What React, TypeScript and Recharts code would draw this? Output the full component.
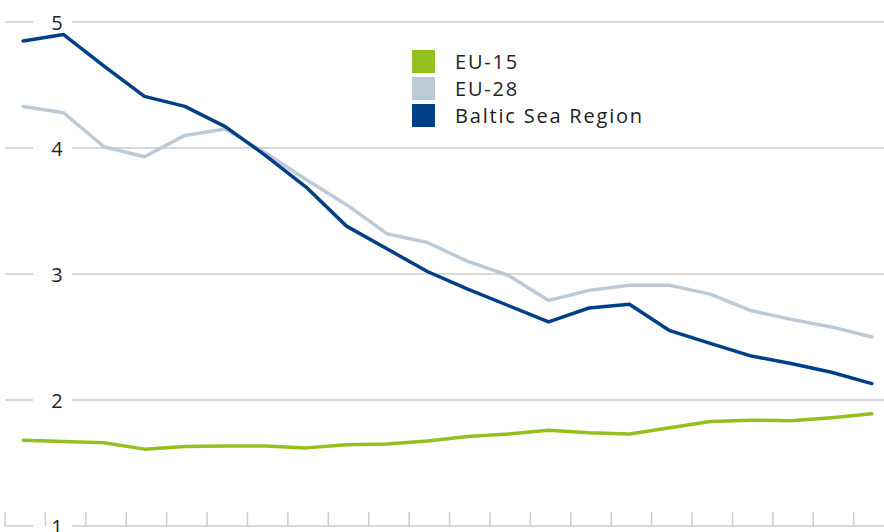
import React from "react";
import { LineChart, Line, XAxis, YAxis, CartesianGrid, Legend } from "recharts";

const YEARS = [
  "1995", "1996", "1997", "1998", "1999", "2000", "2001", "2002", "2003", "2004", "2005",
  "2006", "2007", "2008", "2009", "2010", "2011", "2012", "2013", "2014", "2015", "2016",
];

const EU15 = [1.68, 1.67, 1.66, 1.61, 1.63, 1.635, 1.635, 1.62, 1.645, 1.65, 1.675, 1.71, 1.73, 1.76, 1.74, 1.73, 1.78, 1.83, 1.84, 1.835, 1.86, 1.89];
const EU28 = [4.33, 4.28, 4.01, 3.93, 4.10, 4.15, 3.96, 3.75, 3.55, 3.32, 3.25, 3.10, 2.99, 2.79, 2.87, 2.91, 2.91, 2.84, 2.71, 2.64, 2.58, 2.50];
const BALTIC = [4.85, 4.90, 4.65, 4.41, 4.33, 4.17, 3.94, 3.69, 3.38, 3.20, 3.02, 2.88, 2.75, 2.62, 2.73, 2.76, 2.55, 2.45, 2.35, 2.29, 2.22, 2.13];

const SERIES_NAMES = ["EU-15", "EU-28", "Baltic Sea Region"];
const SERIES_COLORS = ["#93c01f", "#bccad8", "#003f87"];

const Y_TICKS = [1, 2, 3, 4, 5];

const FONT = "'Open Sans', 'Noto Sans', sans-serif";
const GRID = "#cccccc";

const data = YEARS.map((year, i) => ({
  idx: i,
  year,
  eu15: EU15[i],
  eu28: EU28[i],
  baltic: BALTIC[i],
}));

// band edges between the yearly points -> little tick marks along the bottom
const X_TICKS = YEARS.map((_, i) => i - 0.45);

// gridline with a gap where the y label sits
function GridLine(props: any) {
  const { x1, x2, y1 } = props;
  return (
    <g>
      <line x1={x1} x2={x1 + 28} y1={y1} y2={y1} stroke={GRID} strokeWidth={1.5} />
      <line x1={x1 + 67} x2={x2} y1={y1} y2={y1} stroke={GRID} strokeWidth={1.5} />
    </g>
  );
}

function YTick(props: any) {
  const { x, y, payload } = props;
  return (
    <text x={x + 52} y={y} textAnchor="middle" dominantBaseline="central"
      fontSize={20} fontFamily={FONT} fill="#222">
      {payload.value}
    </text>
  );
}

function LegendBox({ payload }: any) {
  const items = [...(payload || [])].sort(
    (a: any, b: any) => SERIES_NAMES.indexOf(a.value) - SERIES_NAMES.indexOf(b.value)
  );
  return (
    <div style={{ fontFamily: FONT, fontSize: 20, letterSpacing: 1.8, color: "#222" }}>
      {items.map((p: any) => (
        <div key={p.value} style={{ display: "flex", alignItems: "center", height: 27 }}>
          <span style={{ display: "inline-block", width: 23, height: 23, background: p.color, marginRight: 20 }} />
          <span>{p.value}</span>
        </div>
      ))}
    </div>
  );
}

export default function App() {
  return (
    <div style={{ position: "absolute", left: 0, top: 0, background: "#fff" }}>
      <LineChart width={884} height={532} data={data} margin={{ top: 22, right: 0, bottom: 5, left: 5 }}>
        <CartesianGrid vertical={false} horizontal={GridLine} />
        <XAxis dataKey="idx" type="number" domain={[-0.45, 21.3]} ticks={X_TICKS}
          height={1} axisLine={false} tickSize={-14} tickFormatter={() => ""}
          tickLine={{ stroke: GRID, strokeWidth: 1.5 }} allowDataOverflow />
        <YAxis type="number" domain={[1, 5]} ticks={Y_TICKS} mirror width={1} interval={0}
          axisLine={false} tickLine={false} tickSize={0} tickMargin={0} tick={YTick} />
        <Legend layout="vertical" align="center" verticalAlign="middle"
          wrapperStyle={{ left: 412, top: 48, width: 300 }} content={<LegendBox />} />
        <Line dataKey="eu15" name={SERIES_NAMES[0]} stroke={SERIES_COLORS[0]} strokeWidth={3.5} dot={false}
          strokeLinecap="round" strokeLinejoin="round" isAnimationActive={false} />
        <Line dataKey="eu28" name={SERIES_NAMES[1]} stroke={SERIES_COLORS[1]} strokeWidth={3.5} dot={false}
          strokeLinecap="round" strokeLinejoin="round" isAnimationActive={false} />
        <Line dataKey="baltic" name={SERIES_NAMES[2]} stroke={SERIES_COLORS[2]} strokeWidth={3.5} dot={false}
          strokeLinecap="round" strokeLinejoin="round" isAnimationActive={false} />
      </LineChart>
    </div>
  );
}
